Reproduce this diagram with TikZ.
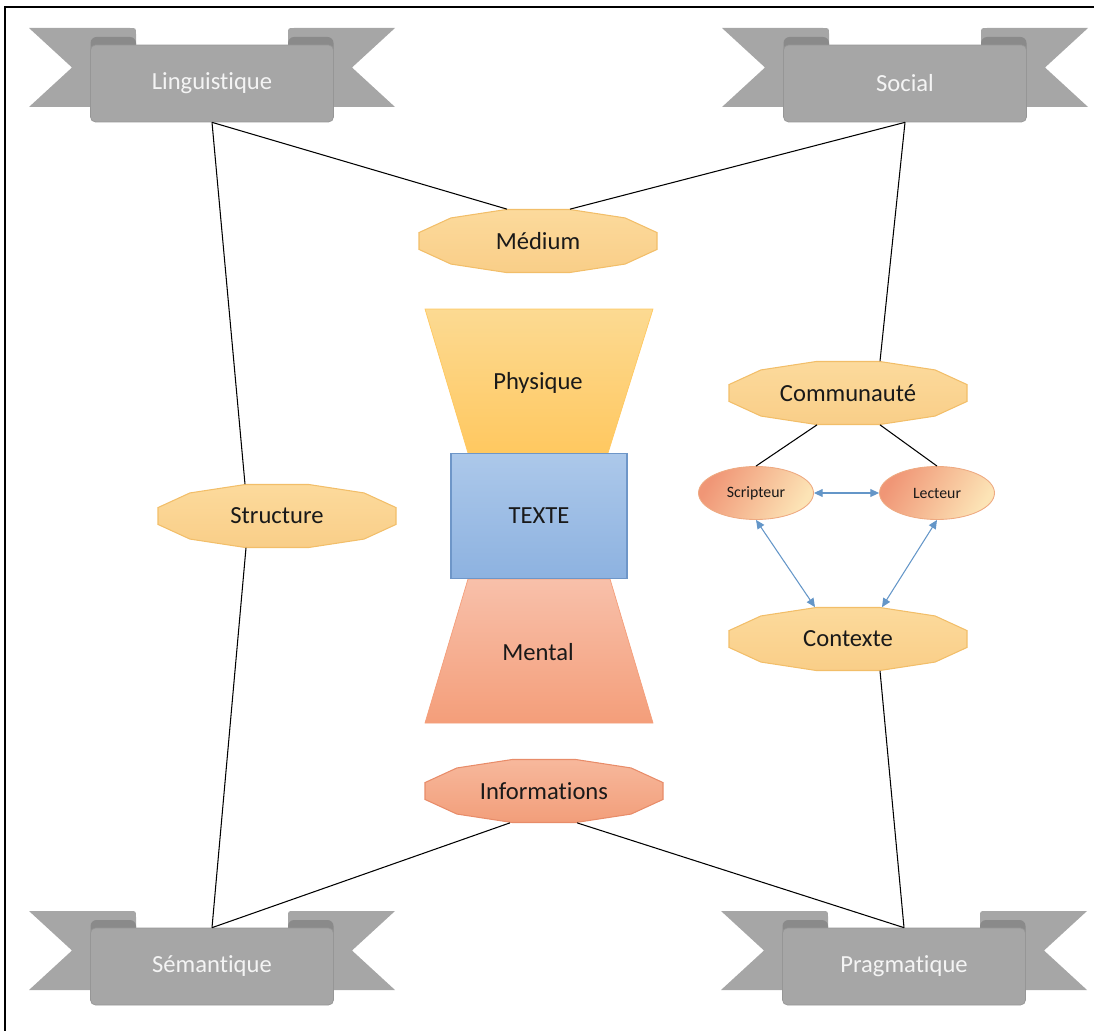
\documentclass[tikz,border=0pt]{standalone}
\usepackage{fontspec}
\setmainfont{Carlito}[Ligatures=NoCommon]
\usetikzlibrary{shapes.geometric, arrows.meta, calc}
\definecolor{ribGray}{RGB}{166, 166, 166}
\definecolor{ribDark}{RGB}{138, 138, 138}
\definecolor{ribEdge}{RGB}{150, 150, 150}
\definecolor{ribText}{RGB}{244, 244, 244}
\definecolor{txtDark}{RGB}{25, 25, 25}
\definecolor{octYelA}{RGB}{252, 218, 156}
\definecolor{octYelB}{RGB}{249, 206, 136}
\definecolor{octYelE}{RGB}{242, 190, 105}
\definecolor{octSalA}{RGB}{247, 184, 156}
\definecolor{octSalB}{RGB}{242, 158, 122}
\definecolor{octSalE}{RGB}{232, 140, 105}
\definecolor{physTop}{RGB}{252, 218, 146}
\definecolor{physBot}{RGB}{255, 200, 96}
\definecolor{mentTop}{RGB}{248, 192, 170}
\definecolor{mentBot}{RGB}{244, 158, 122}
\definecolor{texTop}{RGB}{172, 200, 234}
\definecolor{texBot}{RGB}{141, 178, 224}
\definecolor{texEdge}{RGB}{110, 150, 200}
\definecolor{ellSal}{RGB}{240, 150, 118}
\definecolor{ellCream}{RGB}{252, 228, 182}
\definecolor{ellEdge}{RGB}{238, 170, 130}
\definecolor{arrBlue}{RGB}{100, 150, 200}

\tikzset{
  every node/.style={font=\fontsize{14}{16}\selectfont, text=txtDark},
  link/.style={draw=black, line width=0.6pt},
  duplex/.style={draw=arrBlue, line width=0.6pt,
    {Triangle[width=4.5pt,length=5pt]}-{Triangle[width=4.5pt,length=5pt]}},
  band/.style={fill=ribGray, draw=ribEdge, line width=0.4pt, rounded corners=0.1cm,
    minimum width=4.86cm, minimum height=1.54cm, inner sep=0pt, text=ribText},
  dodtxt/.style={minimum width=4.76cm, minimum height=1.26cm, inner sep=0pt},
  yelfill/.style={top color=octYelA, bottom color=octYelB, draw=octYelE},
  salfill/.style={top color=octSalA, bottom color=octSalB, draw=octSalE},
  person/.style={ellipse, minimum width=2.3cm, minimum height=1.06cm, inner sep=0pt,
    draw=ellEdge, line width=0.5pt, shading=axis, left color=ellSal, right color=ellCream,
    shading angle=60, font=\fontsize{9}{11}\selectfont},
  textebox/.style={minimum width=3.52cm, minimum height=2.5cm, inner sep=0pt,
    top color=texTop, bottom color=texBot, draw=texEdge, line width=0.6pt},
  pics/banner/.style={code={
    \foreach \s in {-1,1}{
      \begin{scope}[xscale=\s]
        \fill[ribGray] (-183,-17) -- (-82,-17) .. controls (-76,-17) .. (-76,-11)
          -- (-76,62) -- (-183,62) -- (-140,22.5) -- cycle;
        \fill[ribDark, rounded corners=0.12cm] (-121.5,12) -- (-121.5,-8) -- (-76,-8) -- (-76,12) -- cycle;
      \end{scope}
    }
    \node[band] (-band) at (0,38.5) {#1};
  }},
  pics/dodeca/.style 2 args={code={
    \draw[#1, line width=0.6pt] (15:123.2 and 32.6)
      \foreach \a in {45,75,...,345}{ -- (\a:123.2 and 32.6)} -- cycle;
    \node[dodtxt] (-box) {#2};
  }}
}

\begin{document}
\begin{tikzpicture}[x=0.02cm, y=-0.02cm]
  \useasboundingbox (0,0) rectangle (1094,1030);
  \draw[line width=1.1pt] (5,7) rectangle (1110,1045);

  % corner banners
  \pic (ling) at (212,45) {banner=Linguistique};
  \pic (soc) at (905,45) {banner=Social};
  \pic (sem) at (212,928) {banner=Sémantique};
  \pic (prag) at (904,928) {banner=Pragmatique};

  % centre column
  \pic (medium) at (538,241) {dodeca={yelfill}{Médium}};
  \draw[top color=physTop, bottom color=physBot, draw=physBot, line width=0.4pt]
    (425,309) -- (653,309) -- (608,453) -- (468,453) -- cycle;
  \node (phys) at (538,383) {Physique};
  \draw[top color=mentTop, bottom color=mentBot, draw=mentBot, line width=0.4pt]
    (468,579) -- (610,579) -- (653,723) -- (425,723) -- cycle;
  \node (ment) at (538,652) {Mental};
  \node[textebox] (texte) at (539,516) {TEXTE};
  \pic (info) at (544,791) {dodeca={salfill}{Informations}};

  % sides
  \pic (struct) at (277,516) {dodeca={yelfill}{Structure}};
  \pic (commu) at (848,393) {dodeca={yelfill}{Communauté}};
  \pic (ctx) at (848,639) {dodeca={yelfill}{Contexte}};
  \node[person] (scrip) at (756,493) {Scripteur};
  \node[person] (lect) at (937,493) {Lecteur};

  % links
  \draw[link] (ling-band.south) -- ($(medium-box.north)+(-31,0)$);
  \draw[link] (ling-band.south) -- ($(struct-box.north)+(-32,0)$);
  \draw[link] (soc-band.south) -- ($(medium-box.north)+(32,0)$);
  \draw[link] (soc-band.south) -- ($(commu-box.north)+(32,0)$);
  \draw[link] ($(struct-box.south)+(-31,0)$) -- (sem-band.north);
  \draw[link] ($(info-box.south)+(-34,0)$) -- (sem-band.north);
  \draw[link] ($(info-box.south)+(33,0)$) -- (prag-band.north);
  \draw[link] ($(ctx-box.south)+(32,0)$) -- (prag-band.north);
  \draw[link] ($(commu-box.south)+(-31,0)$) -- (scrip.north);
  \draw[link] ($(commu-box.south)+(32,0)$) -- (lect.north);

  \draw[duplex] (scrip) -- (lect);
  \draw[duplex] (scrip.south) -- ($(ctx-box.north)+(-33,0)$);
  \draw[duplex] (lect.south) -- ($(ctx-box.north)+(34,0)$);
\end{tikzpicture}
\end{document}
